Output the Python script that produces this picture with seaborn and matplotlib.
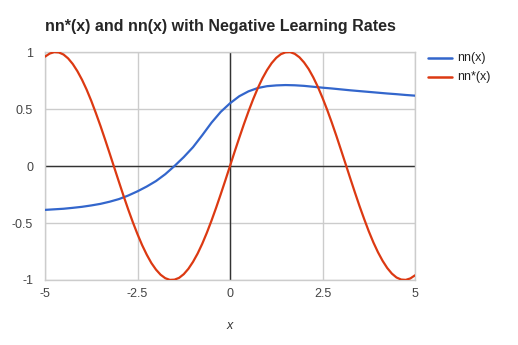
import pandas as pd
import numpy as np
import matplotlib.pyplot as plt
import seaborn as sns

x_nn = [-5, -4.75, -4.5, -4.25, -4, -3.75, -3.5, -3.25, -3, -2.75, -2.5, -2.25, -2, -1.75,
        -1.5, -1.25, -1, -0.75, -0.5, -0.25, 0, 0.25, 0.5, 0.75, 1, 1.25, 1.5, 1.75, 2,
        2.25, 2.5, 2.75, 3, 3.25, 3.5, 3.75, 4, 4.25, 4.5, 4.75, 5]
# nn(x)
nn_vals = [-0.385, -0.38, -0.375, -0.367, -0.358, -0.346, -0.332, -0.313, -0.29, -0.259, -0.222,
           -0.18, -0.132, -0.072, 0.0, 0.078, 0.165, 0.27, 0.38, 0.475, 0.55, 0.612, 0.655, 0.684,
           0.70, 0.707, 0.71, 0.708, 0.703, 0.695, 0.687, 0.68, 0.672, 0.664, 0.657, 0.65,
           0.643, 0.636, 0.63, 0.623, 0.617]

x_star = [-5, -4.875, -4.75, -4.625, -4.5, -4.375, -4.25, -4.125, -4, -3.875, -3.75, -3.625,
          -3.5, -3.375, -3.25, -3.125, -3, -2.875, -2.75, -2.625, -2.5, -2.375, -2.25, -2.125,
          -2, -1.875, -1.75, -1.625, -1.5, -1.375, -1.25, -1.125, -1, -0.875, -0.75, -0.625,
          -0.5, -0.375, -0.25, -0.125, 0, 0.125, 0.25, 0.375, 0.5, 0.625, 0.75, 0.875, 1,
          1.125, 1.25, 1.375, 1.5, 1.625, 1.75, 1.875, 2, 2.125, 2.25, 2.375, 2.5, 2.625,
          2.75, 2.875, 3, 3.125, 3.25, 3.375, 3.5, 3.625, 3.75, 3.875, 4, 4.125, 4.25, 4.375,
          4.5, 4.625, 4.75, 4.875, 5]
# nn*(x)
nn_star_vals = [0.959, 0.986, 0.999, 0.996, 0.978, 0.944, 0.895, 0.832, 0.757, 0.670, 0.572,
                0.464, 0.351, 0.231, 0.108, -0.017, -0.141, -0.264, -0.382, -0.494, -0.598,
                -0.694, -0.778, -0.851, -0.909, -0.954, -0.984, -0.999, -0.997, -0.981, -0.949,
                -0.902, -0.841, -0.768, -0.682, -0.585, -0.479, -0.366, -0.247, -0.125, 0.0,
                0.125, 0.247, 0.366, 0.479, 0.585, 0.682, 0.768, 0.841, 0.902, 0.949, 0.981,
                0.997, 0.999, 0.984, 0.954, 0.909, 0.851, 0.778, 0.694, 0.598, 0.494, 0.382,
                0.264, 0.141, 0.017, -0.108, -0.231, -0.351, -0.464, -0.572, -0.670, -0.757,
                -0.832, -0.895, -0.944, -0.978, -0.996, -0.999, -0.986, -0.959]
series_names = ['nn(x)', 'nn*(x)']
colors = ['#3366cc', '#dc3912']

df = pd.DataFrame({'x': x_nn + x_star,
                   'y': nn_vals + nn_star_vals,
                   'series': [series_names[0]] * len(x_nn) + [series_names[1]] * len(x_star)})

sns.set_style('white')
plt.rcParams['font.family'] = ['Liberation Sans', 'DejaVu Sans']

fig = plt.figure(figsize=(5.18, 3.45), dpi=100)
ax = fig.add_axes([45/518, 1-280/345, 370/518, 228/345])

sns.lineplot(data=df, x='x', y='y', hue='series', palette=colors, linewidth=1.6,
             ax=ax, legend=False, zorder=3)

ax.set_xlim(-5, 5)
ax.set_ylim(-1, 1)
ax.set_xticks([-5, -2.5, 0, 2.5, 5])
ax.set_xticklabels(['-5', '-2.5', '0', '2.5', '5'])
ax.set_yticks([-1, -0.5, 0, 0.5, 1])
ax.set_yticklabels(['-1', '-0.5', '0', '0.5', '1'])
ax.grid(True, color='#cccccc', linewidth=1)
ax.axhline(0, color='#333333', linewidth=1, zorder=2)
ax.axvline(0, color='#333333', linewidth=1, zorder=2)
for s in ax.spines.values():
    s.set_color('#cccccc')
    s.set_linewidth(1)
ax.tick_params(axis='both', length=0, labelsize=9, colors='#444444')
ax.tick_params(axis='x', pad=5.5)
ax.tick_params(axis='y', pad=8.5)
ax.set_ylabel('')
ax.set_xlabel('x', fontsize=9, style='italic', color='#333333', labelpad=15)

fig.text(45/518, 1-26/345, 'nn*(x) and nn(x) with Negative Learning Rates',
         fontsize=11.5, fontweight='bold', va='center', ha='left')

# legend
for i, (name, c) in enumerate(zip(series_names, colors)):
    yy = 1 - (57.5 + 19.2*i)/345
    fig.add_artist(plt.Line2D([428/518, 451.5/518], [yy, yy], color=c, linewidth=1.8))
    fig.text(457/518, yy, name, fontsize=9, va='center', ha='left', color='#222222')

plt.savefig('out.png', dpi=100)
